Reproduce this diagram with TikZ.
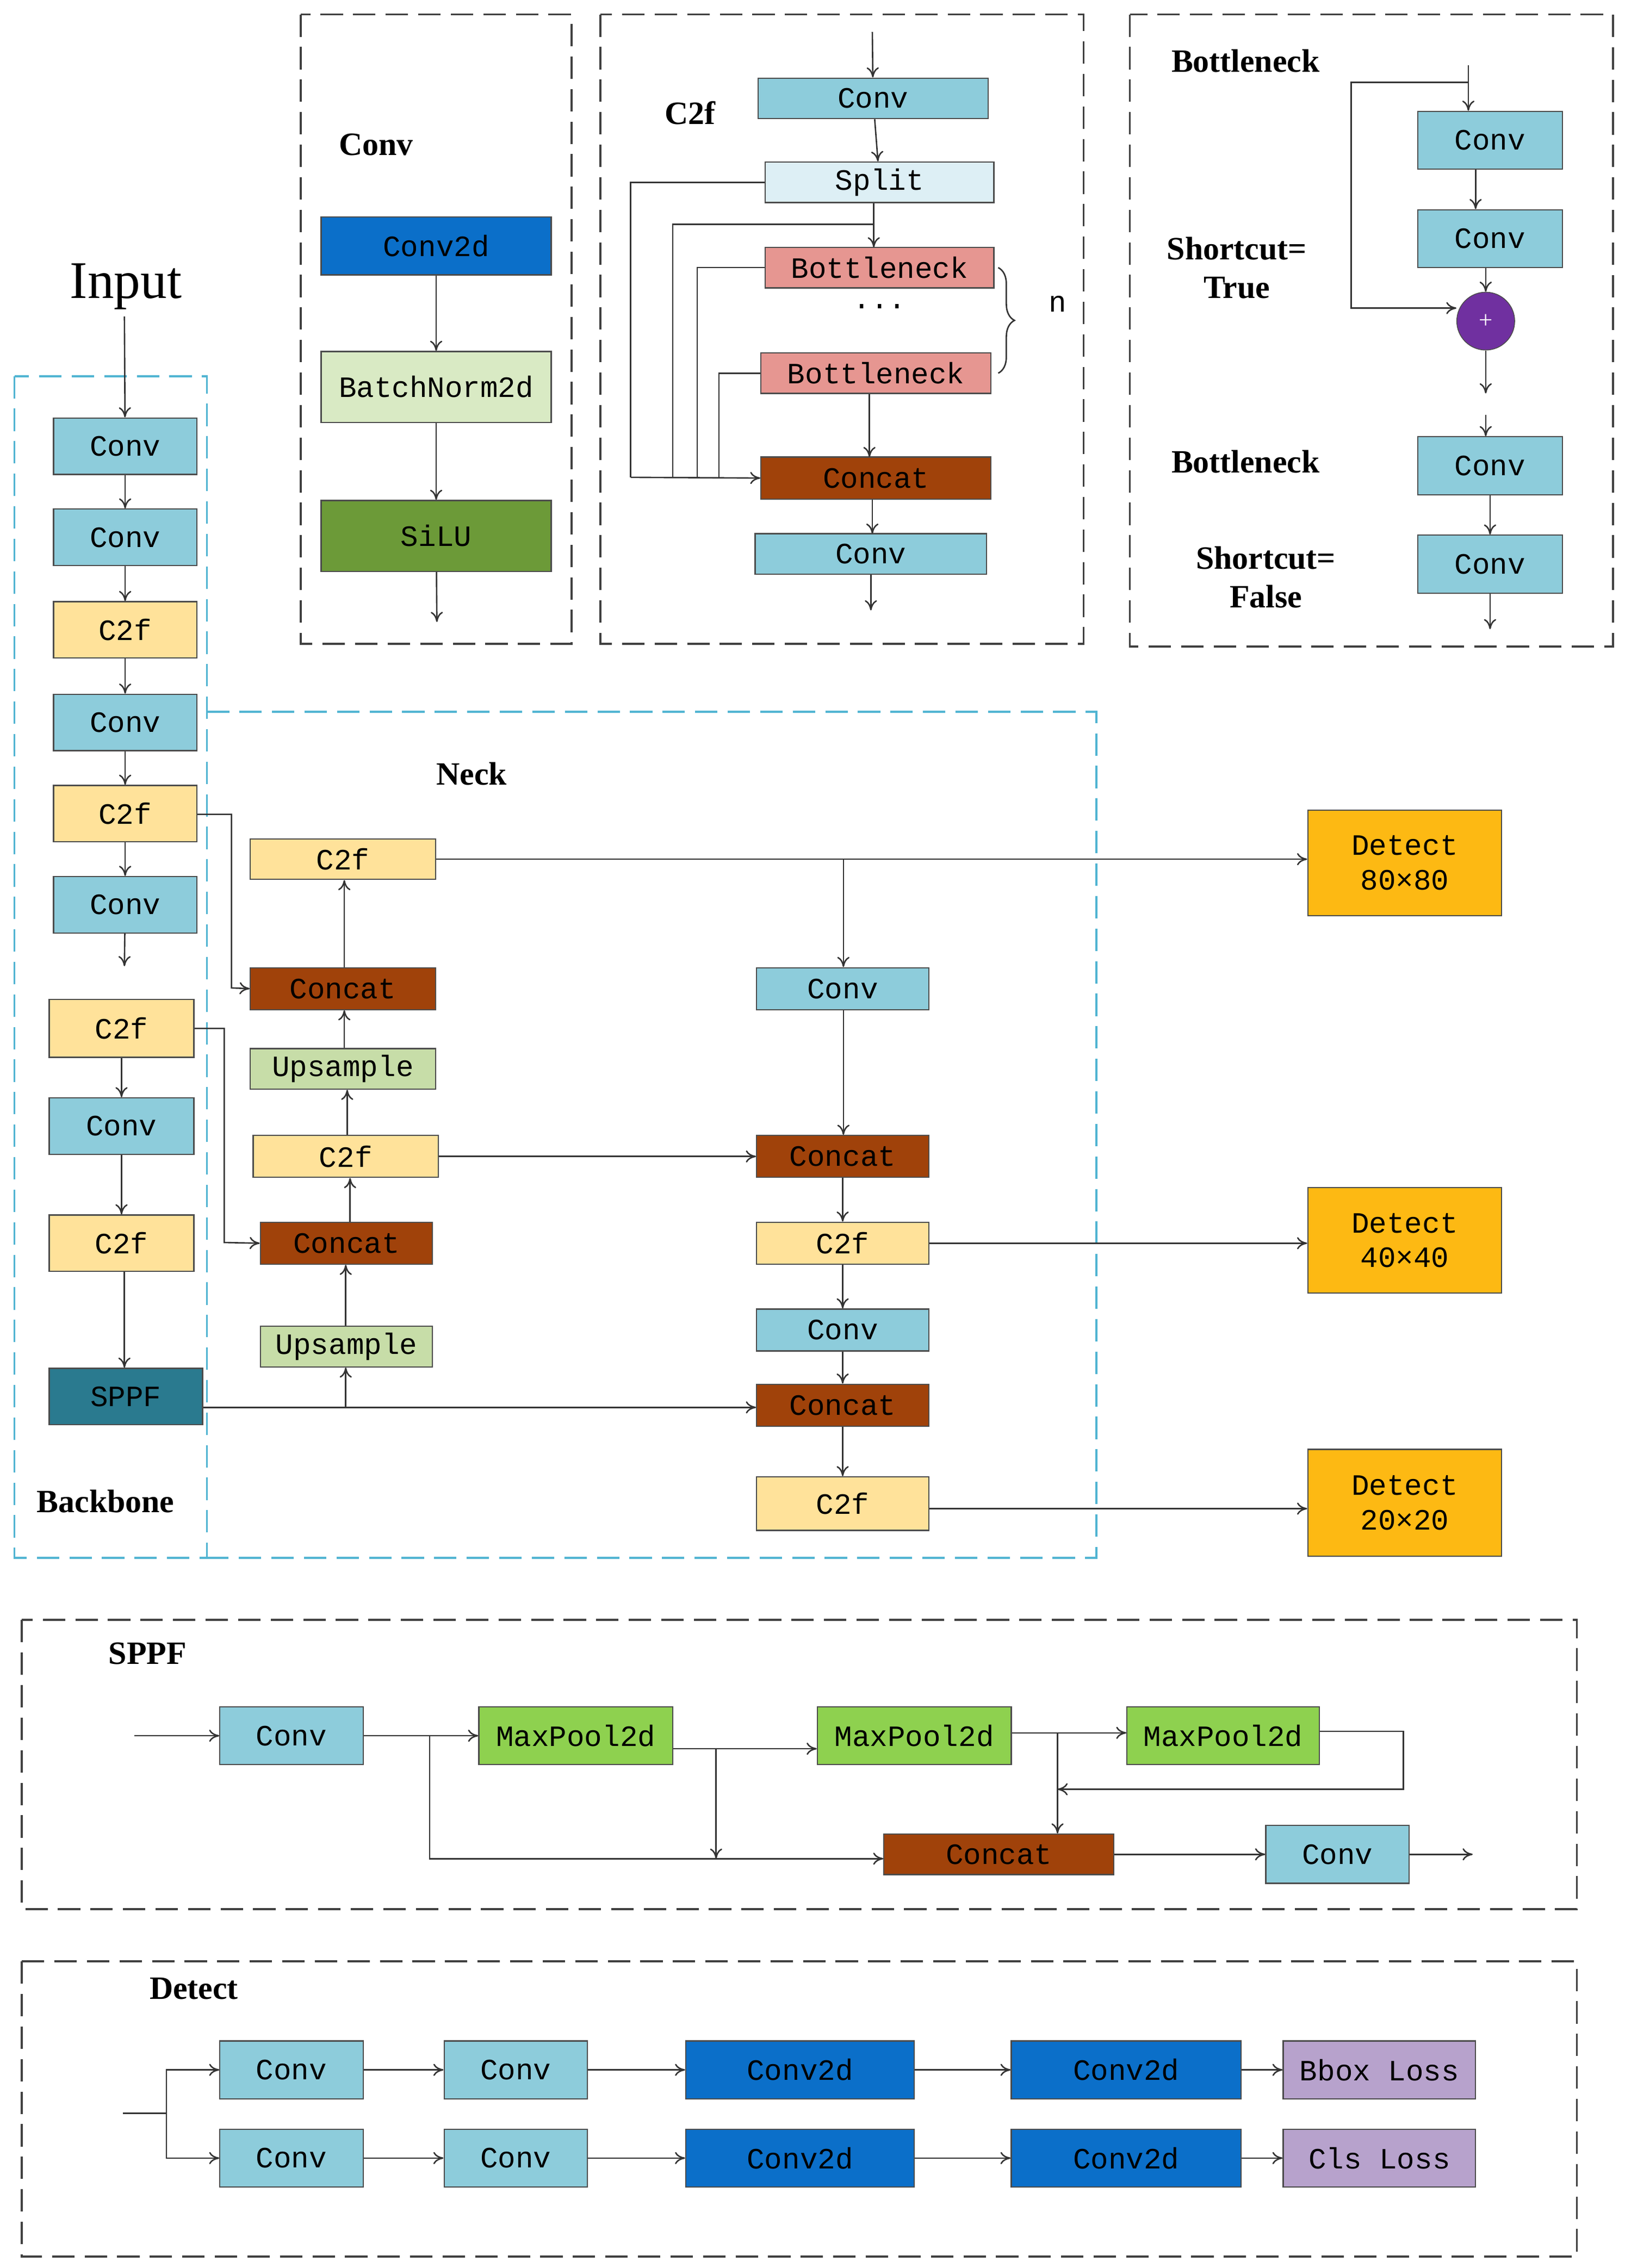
\documentclass[tikz,border=0pt]{standalone}
\usepackage{fontspec}
\setmainfont{Liberation Serif}
\newfontfamily\boxfont{Liberation Mono}
\usetikzlibrary{arrows.meta,decorations.pathreplacing}
\definecolor{cconv}{RGB}{141,204,219}
\definecolor{csplit}{RGB}{221,239,245}
\definecolor{cbott}{RGB}{230,150,145}
\definecolor{ccat}{RGB}{160,66,10}
\definecolor{cc2f}{RGB}{255,226,154}
\definecolor{cc2d}{RGB}{11,111,201}
\definecolor{cbn}{RGB}{217,234,196}
\definecolor{csilu}{RGB}{108,154,56}
\definecolor{cup}{RGB}{199,221,168}
\definecolor{csppf}{RGB}{42,122,143}
\definecolor{cdet}{RGB}{253,185,19}
\definecolor{cmp}{RGB}{142,209,79}
\definecolor{closs}{RGB}{183,162,204}
\definecolor{cplus}{RGB}{112,48,160}
\definecolor{ccyan}{RGB}{80,180,210}
\tikzset{
  box/.style={draw=black!70,line width=0.6pt,inner sep=0pt,font=\boxfont\fontsize{14.5}{17}\selectfont,align=center},
  ln/.style={line width=0.7pt,draw=black!80},
  ar/.style={ln,-{To[length=5pt,width=6pt]}},
  panel/.style={line width=1pt,draw=black!75,dash pattern=on 11pt off 5pt},
  cpanel/.style={line width=1pt,draw=ccyan,dash pattern=on 11pt off 5pt},
  lab/.style={font=\bfseries\fontsize{16}{19}\selectfont,align=center}
}
\newcommand{\mybox}[7]{\node[box,fill=#6,minimum width={(#4-#2)*0.025cm},minimum height={(#5-#3)*0.025cm}] (#1) at ({(#2+#4)/2},{(#3+#5)/2}) {#7};}
\begin{document}
\begin{tikzpicture}[x=0.025cm,y=-0.025cm]
\useasboundingbox[fill=white] (0,0) rectangle (1123,1568);
% panels
\draw[panel] (208,10) rectangle (395,445);
\draw[panel] (415,10) rectangle (749,445);
\draw[panel] (781,10) rectangle (1115,447);
\draw[panel] (15,1120) rectangle (1090,1320);
\draw[panel] (15,1356) rectangle (1090,1560);
\draw[cpanel] (10,260) rectangle (143,1077);
\draw[cpanel] (143,492) -- (758,492) -- (758,1077) -- (143,1077);
% Conv panel
\node[lab] (lconv) at (260,100) {Conv};
\mybox{cd}{222}{150}{381}{190}{cc2d}{Conv2d}
\mybox{bn}{222}{243}{381}{292}{cbn}{BatchNorm2d}
\mybox{si}{222}{346}{381}{395}{csilu}{SiLU}
\coordinate (siout) at (302,430);
\draw[ar] (cd) -- (bn); \draw[ar] (bn) -- (si); \draw[ar] (si) -- (siout);
% C2f panel
\node[lab] (lc2f) at (477,78) {C2f};
\coordinate (cin) at (603,22);
\mybox{cc1}{524}{54}{683}{82}{cconv}{Conv}
\mybox{sp}{529}{112}{687}{140}{csplit}{Split}
\mybox{b1}{529}{171}{687}{199}{cbott}{Bottleneck}
\node[font=\boxfont\fontsize{14.5}{17}\selectfont] (dots) at (608,212) {...};
\mybox{b2}{526}{244}{685}{272}{cbott}{Bottleneck}
\mybox{cat0}{526}{316}{685}{345}{ccat}{Concat}
\mybox{cc2}{522}{369}{682}{397}{cconv}{Conv}
\coordinate (cout) at (602,422);
\draw[ar] (cin) -- (cc1); \draw[ar] (cc1) -- (sp);
\draw[ar] (sp.south -| 604,0) -- (604,171);
\draw[ar] (b2.south -| 601,0) -- (601,316);
\draw[ar] (cat0.south -| 603,0) -- (603,369);
\draw[ar] (cc2.south -| 602,0) -- (cout);
\draw[ln] (sp.west) -- (436,126) -- (436,330);
\draw[ln] (604,155) -- (465,155) -- (465,330);
\draw[ln] (b1.west) -- (482,185) -- (482,330);
\draw[ln] (b2.west) -- (497,258) -- (497,330);
\draw[ar] (436,330) -- (cat0.west);
\draw[ln,decorate,decoration={brace,amplitude=8pt}] (690,185) -- (690,258);
\node[font=\boxfont\fontsize{14.5}{17}\selectfont] (nn) at (731,210) {n};
% Bottleneck panel
\node[lab] (lb1) at (861,42) {Bottleneck};
\node[lab] (ls1) at (855,185) {Shortcut=\\True};
\mybox{bc1}{980}{77}{1080}{117}{cconv}{Conv}
\mybox{bc2}{980}{145}{1080}{185}{cconv}{Conv}
\node[draw=black!70,fill=cplus,circle,minimum size={40*0.025cm},inner sep=0pt,font=\fontsize{12}{12}\selectfont,text=white!80] (pl) at (1027,222) {+};
\coordinate (bin) at (1015,45); \coordinate (bout) at (1027,272);
\draw[ar] (bin) -- (bin |- bc1.north);
\draw[ar] (bc1.south -| 1020,0) -- (bc2.north -| 1020,0);
\draw[ar] (bc2.south -| 1027,0) -- (pl);
\draw[ar] (pl) -- (bout);
\draw[ar] (1015,57) -- (934,57) -- (934,213) -- (pl.west |- 0,213);
\node[lab] (lb2) at (861,319) {Bottleneck};
\node[lab] (ls2) at (875,399) {Shortcut=\\False};
\mybox{bc3}{980}{302}{1080}{342}{cconv}{Conv}
\mybox{bc4}{980}{370}{1080}{410}{cconv}{Conv}
\coordinate (b2in) at (1027,287); \coordinate (b2out) at (1030,435);
\draw[ar] (b2in) -- (bc3.north -| 1027,0);
\draw[ar] (bc3.south -| 1030,0) -- (bc4.north -| 1030,0);
\draw[ar] (bc4.south -| 1030,0) -- (b2out);
% Backbone
\node[font=\fontsize{26}{30}\selectfont] (inp) at (87,198) {Input};
\mybox{k1}{37}{289}{136}{328}{cconv}{Conv}
\mybox{k2}{37}{352}{136}{391}{cconv}{Conv}
\mybox{k3}{37}{416}{136}{455}{cc2f}{C2f}
\mybox{k4}{37}{480}{136}{519}{cconv}{Conv}
\mybox{k5}{37}{543}{136}{582}{cc2f}{C2f}
\mybox{k6}{37}{606}{136}{645}{cconv}{Conv}
\coordinate (k6o) at (86,668);
\mybox{k7}{34}{691}{134}{731}{cc2f}{C2f}
\mybox{k8}{34}{759}{134}{798}{cconv}{Conv}
\mybox{k9}{34}{840}{134}{879}{cc2f}{C2f}
\mybox{k10}{34}{946}{140}{985}{csppf}{SPPF}
\node[lab] (lbb) at (73,1038) {Backbone};
\draw[ar] (inp.south -| 86,0) -- (k1);
\draw[ar] (k1) -- (k2); \draw[ar] (k2) -- (k3); \draw[ar] (k3) -- (k4);
\draw[ar] (k4) -- (k5); \draw[ar] (k5) -- (k6); \draw[ar] (k6) -- (k6o);
\draw[ar] (k7) -- (k8); \draw[ar] (k8) -- (k9); \draw[ar] (k9.south -| 86,0) -- (k10.north -| 86,0);
% Neck
\node[lab] (lneck) at (326,535) {Neck};
\mybox{n1}{173}{580}{301}{608}{cc2f}{C2f}
\mybox{n2}{173}{669}{301}{698}{ccat}{Concat}
\mybox{n3}{173}{725}{301}{753}{cup}{Upsample}
\mybox{n4}{175}{785}{303}{814}{cc2f}{C2f}
\mybox{n5}{180}{845}{299}{874}{ccat}{Concat}
\mybox{n6}{180}{917}{299}{945}{cup}{Upsample}
\mybox{r1}{523}{669}{642}{698}{cconv}{Conv}
\mybox{r2}{523}{785}{642}{814}{ccat}{Concat}
\mybox{r3}{523}{845}{642}{874}{cc2f}{C2f}
\mybox{r4}{523}{905}{642}{934}{cconv}{Conv}
\mybox{r5}{523}{957}{642}{986}{ccat}{Concat}
\mybox{r6}{523}{1021}{642}{1058}{cc2f}{C2f}
\mybox{d1}{904}{560}{1038}{633}{cdet}{Detect\\80×80}
\mybox{d2}{904}{821}{1038}{894}{cdet}{Detect\\40×40}
\mybox{d3}{904}{1002}{1038}{1076}{cdet}{Detect\\20×20}
\draw[ar] (k5.east |- 0,563) -- (160,563) -- (160,683) -- (n2.west);
\draw[ar] (k7.east |- 0,711) -- (155,711) -- (155,859) -- (n5.west);
\draw[ar] (k10.east |- 0,973) -- (r5.west |- 0,973);
\draw[ar] (239,973) -- (n6.south -| 239,0);
\draw[ar] (n6.north -| 239,0) -- (n5.south -| 239,0);
\draw[ar] (n5.north -| 242,0) -- (n4.south -| 242,0);
\draw[ar] (n4.north -| 240,0) -- (n3.south -| 240,0);
\draw[ar] (n3.north -| 238,0) -- (n2.south -| 238,0);
\draw[ar] (n2.north -| 238,0) -- (n1.south -| 238,0);
\draw[ar] (n1.east) -- (d1.west |- n1.east);
\draw[ar] (583,594) -- (r1.north -| 583,0);
\draw[ar] (r1.south -| 583,0) -- (r2.north -| 583,0);
\draw[ar] (n4.east) -- (r2.west);
\draw[ar] (r2) -- (r3); \draw[ar] (r3) -- (r4); \draw[ar] (r4) -- (r5); \draw[ar] (r5) -- (r6);
\draw[ar] (r3.east) -- (d2.west |- r3.east);
\draw[ar] (r6.east |- 0,1043) -- (d3.west |- 0,1043);
% SPPF panel
\node[lab] (lsp) at (102,1143) {SPPF};
\coordinate (sin) at (93,1200);
\mybox{s1}{152}{1180}{251}{1220}{cconv}{Conv}
\mybox{m1}{331}{1180}{465}{1220}{cmp}{MaxPool2d}
\mybox{m2}{565}{1180}{699}{1220}{cmp}{MaxPool2d}
\mybox{m3}{779}{1180}{912}{1220}{cmp}{MaxPool2d}
\mybox{sc}{611}{1268}{770}{1296}{ccat}{Concat}
\mybox{s2}{875}{1262}{974}{1302}{cconv}{Conv}
\coordinate (sout) at (1018,1282);
\draw[ar] (sin) -- (s1);
\draw[ar] (s1) -- (m1); \draw[ar] (m1.east |- 0,1209) -- (m2.west |- 0,1209);
\draw[ar] (m2.east |- 0,1198) -- (m3.west |- 0,1198);
\draw[ar] (297,1200) -- (297,1285) -- (sc.west |- 0,1285);
\draw[ar] (495,1209) -- (495,1285);
\draw[ar] (731,1198) -- (sc.north -| 731,0);
\draw[ar] (m3.east |- 0,1197) -- (970,1197) -- (970,1237) -- (731,1237);
\draw[ar] (sc.east) -- (s2.west |- sc.east);
\draw[ar] (s2.east |- sout) -- (sout);
% Detect panel
\node[lab] (ldt) at (134,1375) {Detect};
\mybox{a1}{152}{1411}{251}{1451}{cconv}{Conv}
\mybox{a2}{307}{1411}{406}{1451}{cconv}{Conv}
\mybox{a3}{474}{1411}{632}{1451}{cc2d}{Conv2d}
\mybox{a4}{699}{1411}{858}{1451}{cc2d}{Conv2d}
\mybox{a5}{887}{1411}{1020}{1451}{closs}{Bbox Loss}
\mybox{c1}{152}{1472}{251}{1512}{cconv}{Conv}
\mybox{c2}{307}{1472}{406}{1512}{cconv}{Conv}
\mybox{c3}{474}{1472}{632}{1512}{cc2d}{Conv2d}
\mybox{c4}{699}{1472}{858}{1512}{cc2d}{Conv2d}
\mybox{c5}{887}{1472}{1020}{1512}{closs}{Cls Loss}
\coordinate (din) at (85,1461);
\draw[ln] (din) -- (115,1461);
\draw[ar] (115,1461) -- (115,1431) -- (a1.west);
\draw[ar] (115,1461) -- (115,1492) -- (c1.west);
\draw[ar] (a1) -- (a2); \draw[ar] (a2) -- (a3); \draw[ar] (a3) -- (a4); \draw[ar] (a4) -- (a5);
\draw[ar] (c1) -- (c2); \draw[ar] (c2) -- (c3); \draw[ar] (c3) -- (c4); \draw[ar] (c4) -- (c5);
\end{tikzpicture}
\end{document}
